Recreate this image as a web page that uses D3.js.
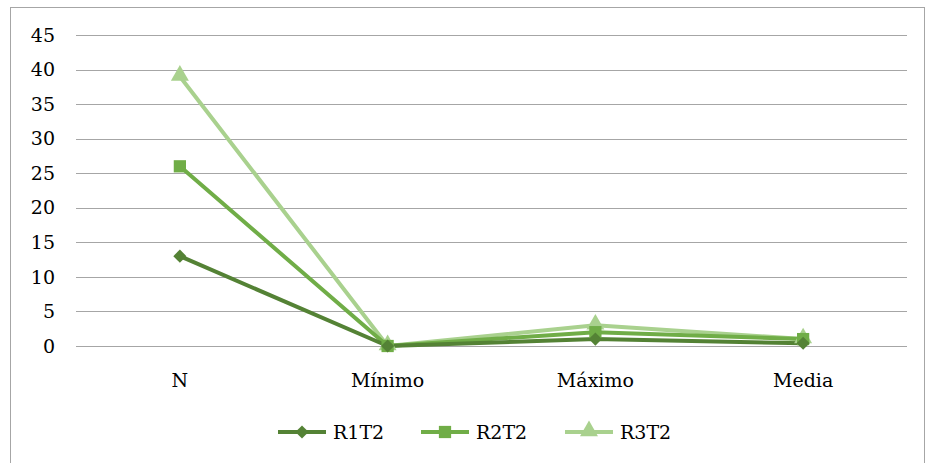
<!DOCTYPE html>
<html><head><meta charset="utf-8">
<script src="https://cdn.jsdelivr.net/npm/d3@7"></script>
<style>body{margin:0;background:#fff}svg{display:block}</style>
</head><body>
<script>
const categories = ["N", "Mínimo", "Máximo", "Media"];
const seriesNames = ["R1T2", "R2T2", "R3T2"];
const r1t2 = [13, 0, 1, 0.4];
const r2t2 = [26, 0, 2, 1];
const r3t2 = [39, 0, 3, 1];
const yTicks = [0, 5, 10, 15, 20, 25, 30, 35, 40, 45];
const colors = ["#548235", "#70ad47", "#a9d18e"];
const symbols = [d3.symbolDiamond2, d3.symbolSquare, d3.symbolTriangle];
const FONT = "19px 'DejaVu Serif'";

const W = 926, H = 463;
const svg = d3.select("body").append("svg").attr("width", W).attr("height", H);
svg.append("rect").attr("x", 10.5).attr("y", 7.5).attr("width", 914).attr("height", 460)
  .attr("fill", "#fff").attr("stroke", "#a6a6a6");

const x = d3.scaleBand().domain(categories).range([76, 907]);
const y = d3.scaleLinear().domain([0, 45]).range([346, 35]);

const g = svg.append("g");
yTicks.forEach(t => {
  g.append("line").attr("x1", 76).attr("x2", 907).attr("y1", Math.round(y(t)) + 0.5).attr("y2", Math.round(y(t)) + 0.5)
    .attr("stroke", "#a6a6a6").attr("stroke-width", 1);
  g.append("text").attr("x", 55).attr("y", y(t)).attr("dy", "0.35em").attr("text-anchor", "end")
    .style("font", FONT).text(t);
});
categories.forEach(c => {
  g.append("text").attr("x", x(c) + x.bandwidth() / 2).attr("y", 387).attr("text-anchor", "middle")
    .style("font", FONT).text(c);
});

const data = [r1t2, r2t2, r3t2];
const line = d3.line().x((d, i) => x(categories[i]) + x.bandwidth() / 2).y(d => y(d));
const sizes = [110, 150, 140];
[2, 1, 0].forEach(s => {
  g.append("path").attr("d", line(data[s])).attr("fill", "none").attr("stroke", colors[s])
    .attr("stroke-width", 4).attr("stroke-linejoin", "round");
});
[2, 1, 0].forEach(s => {
  data[s].forEach((v, i) => {
    g.append("path").attr("d", d3.symbol().type(symbols[s]).size(sizes[s])())
      .attr("transform", `translate(${x(categories[i]) + x.bandwidth() / 2},${y(v) + (s === 2 ? -1 : 0)})`)
      .attr("fill", colors[s]);
  });
});

const legX = [278, 421, 565];
seriesNames.forEach((n, s) => {
  const lg = svg.append("g").attr("transform", `translate(${legX[s]},432)`);
  lg.append("line").attr("x1", 0).attr("x2", 48).attr("stroke", colors[s]).attr("stroke-width", 4);
  lg.append("path").attr("d", d3.symbol().type(symbols[s]).size(sizes[s])()).attr("transform", `translate(24,${s === 2 ? -1 : 0})`).attr("fill", colors[s]);
  lg.append("text").attr("x", 55).attr("y", 0).attr("dy", "0.35em").style("font", FONT).text(n);
});
</script>
</body></html>
